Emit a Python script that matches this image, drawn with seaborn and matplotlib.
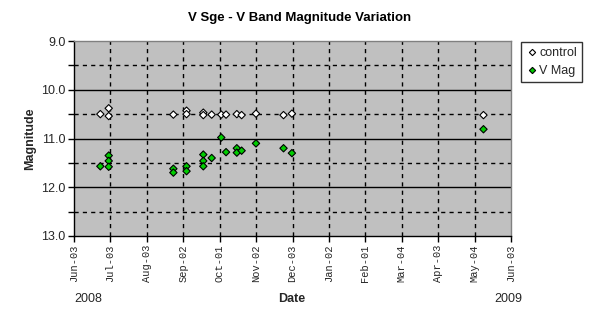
import matplotlib
matplotlib.use("Agg")
import matplotlib.pyplot as plt
import seaborn as sns
import pandas as pd

# Days since 2008-06-03 (one axis unit of ticks = 30.4167 days)
control_day = [22, 29, 29, 83, 94, 94, 108, 108, 115, 123, 127, 136, 140, 152, 175, 182, 342]
control_mag = [10.50, 10.38, 10.54, 10.51, 10.43, 10.50, 10.47, 10.52, 10.51, 10.51, 10.51,
               10.50, 10.52, 10.49, 10.52, 10.49, 10.52]
vmag_day = [22, 29, 29, 29, 83, 83, 94, 94, 108, 108, 108, 115, 123, 127, 136, 136, 140,
            152, 175, 182, 342]
vmag_mag = [11.57, 11.35, 11.46, 11.58, 11.62, 11.70, 11.57, 11.67, 11.33, 11.46, 11.57,
            11.40, 10.98, 11.28, 11.20, 11.29, 11.25, 11.10, 11.20, 11.30, 10.81]
tick_labels = ["Jun-03", "Jul-03", "Aug-03", "Sep-02", "Oct-01", "Nov-02", "Dec-03",
               "Jan-02", "Feb-01", "Mar-04", "Apr-03", "May-04", "Jun-03"]
tick_step = 365 / 12.0
y_ticks = [9.0, 10.0, 11.0, 12.0, 13.0]

df = pd.DataFrame({
    "Day": control_day + vmag_day,
    "Magnitude": control_mag + vmag_mag,
    "Series": ["control"] * len(control_day) + ["V Mag"] * len(vmag_day),
})

sns.set_style("white")
plt.rcParams["font.family"] = ["Liberation Sans", "DejaVu Sans"]

fig = plt.figure(figsize=(5.95, 3.23), dpi=100)
ax = fig.add_axes([74 / 595, 1 - 236 / 323, 437 / 595, 195 / 323])
ax.set_facecolor("#c0c0c0")

xt = [i * tick_step for i in range(len(tick_labels))]
ax.set_xlim(0, xt[-1])
ax.set_ylim(13.0, 9.0)

# grid
for y in [10.0, 11.0, 12.0]:
    ax.axhline(y, color="black", lw=1.0, zorder=1)
for y in [9.5, 10.5, 11.5, 12.5]:
    ax.axhline(y, color="black", lw=1.0, ls=(0, (3, 3)), zorder=1)
for x in xt[1:-1]:
    ax.axvline(x, color="black", lw=1.0, ls=(0, (3, 3)), zorder=1)

sns.scatterplot(data=df, x="Day", y="Magnitude", hue="Series", style="Series",
                markers={"control": "D", "V Mag": "D"},
                palette={"control": "white", "V Mag": "#00cc00"},
                edgecolor="black", linewidth=0.8, s=14, ax=ax, zorder=3)

ax.set_xticks(xt)
ax.set_xticklabels(tick_labels, rotation=90, family="Liberation Mono", fontsize=7.5)
ax.set_yticks(y_ticks)
ax.set_yticklabels([f"{v:.1f}" for v in y_ticks], fontsize=9)
ax.set_yticks([9.5, 10.5, 11.5, 12.5], minor=True)
ax.tick_params(axis="both", which="both", direction="out", length=4, width=1, color="black",
               left=True, bottom=True, pad=2)
ax.tick_params(axis="y", which="minor", length=4)

for s in ["left", "bottom"]:
    ax.spines[s].set_color("black")
    ax.spines[s].set_linewidth(1)
for s in ["top", "right"]:
    ax.spines[s].set_color("#808080")
    ax.spines[s].set_linewidth(1)

ax.set_xlabel("")
ax.set_ylabel("Magnitude", fontsize=9, fontweight="bold", labelpad=4)

leg = ax.legend(loc="upper left", bbox_to_anchor=(1.022, 0.995), frameon=True, fancybox=False,
                edgecolor="black", fontsize=9, handletextpad=0.1, borderpad=0.4,
                handlelength=1.0, labelspacing=0.5, borderaxespad=0)
leg.get_frame().set_linewidth(1)
for h in leg.legend_handles:
    if hasattr(h, "set_markersize"):
        h.set_markersize(3.2)
    elif hasattr(h, "set_sizes"):
        h.set_sizes([10])

fig.text(300 / 595, 1 - 18 / 323, "V Sge - V Band Magnitude Variation", ha="center", va="center",
         fontsize=9.5, fontweight="bold", color="#000000")
fig.text(292 / 595, 1 - 299 / 323, "Date", ha="center", va="center", fontsize=9, fontweight="bold")
fig.text(88 / 595, 1 - 299 / 323, "2008", ha="center", va="center", fontsize=9)
fig.text(508 / 595, 1 - 299 / 323, "2009", ha="center", va="center", fontsize=9)

fig.savefig("out.png", dpi=100, facecolor="white")
